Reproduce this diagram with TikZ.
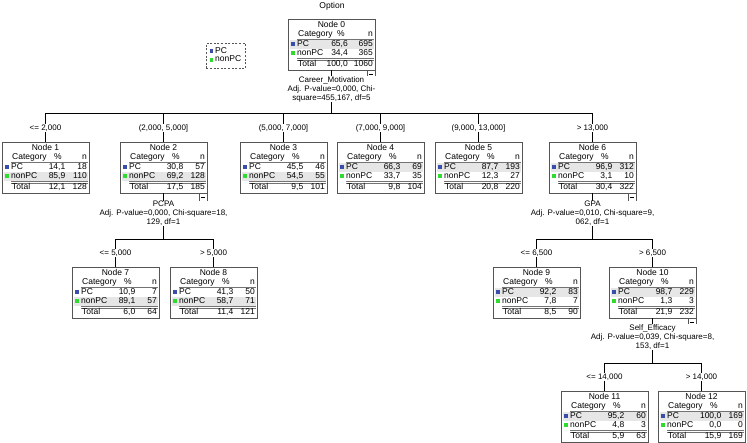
\documentclass[tikz,border=0pt]{standalone}
\usepackage{fontspec}
\setmainfont{Liberation Sans}
\usetikzlibrary{calc}
\definecolor{pcblue}{HTML}{3A4DA8}
\definecolor{npgreen}{HTML}{2EDB2E}
\definecolor{hlgray}{HTML}{E6E6E6}
\definecolor{boxgray}{HTML}{555555}
\tikzset{
  txt/.style={font=\fontsize{8.5}{9}\selectfont, inner sep=0pt, text height=6pt, text depth=1.7pt},
  lbl/.style={font=\fontsize{8}{9}\selectfont, inner sep=0.6pt, fill=white, align=center},
  tbox/.style={draw=boxgray, line width=0.8pt, inner sep=0pt, outer sep=0pt, minimum width=87pt, minimum height=51pt, anchor=north west},
  edge/.style={draw=black, line width=0.8pt},
  rule/.style={draw=black!55, line width=0.5pt}
}
\def\pcolx{63.5}
\def\phdx{56}
\newcommand\rowvals[3]{%
  \node[txt,anchor=east] at (\pcolx,#1) {#2};
  \node[txt,anchor=east] at (85,#1) {#3};}
% #1 name, #2 x, #3 y, #4 number, #5 highlighted row, #6 PC, #7 nonPC, #8 Total, #9 collapse box
\newcommand\tnode[9]{%
  \begin{scope}[shift={(#2,#3)}]
    \ifnum#5=1 \fill[hlgray] (2,20.8) rectangle (85.5,29.6);\else\fill[hlgray] (2,29.6) rectangle (85.5,38.8);\fi
    \node[txt] at (43.5,6) {Node #4};
    \node[txt,anchor=west] at (10,15) {Category};
    \node[txt] at (\phdx,15) {\%};
    \node[txt,anchor=east] at (85,15) {n};
    \draw[rule] (9,20.6) -- (85.5,20.6);
    \fill[pcblue] (2.6,23.2) rectangle (6.6,27.2);
    \node[txt,anchor=west] at (9,25.2) {PC};
    \rowvals{25.2}#6
    \fill[npgreen] (2.6,32.2) rectangle (6.6,36.2);
    \node[txt,anchor=west] at (9,34.2) {nonPC};
    \rowvals{34.2}#7
    \draw[rule] (9,39.3) -- (85.5,39.3);
    \draw[rule] (9,40.8) -- (85.5,40.8);
    \node[txt,anchor=west] at (10,45.8) {Total};
    \rowvals{45.8}#8
    \ifnum#9=1
      \draw[draw=boxgray, line width=0.6pt, fill=white] (79,51) rectangle (87,59);
      \draw[line width=0.6pt] (80.8,55) -- (85.2,55);
    \fi
  \end{scope}
  \node[tbox] (#1) at (#2,#3) {};
}
\begin{document}
\begin{tikzpicture}[x=1pt,y=-1pt]
\useasboundingbox (0,0) rectangle (747,443);
\fill[white] (0,0) rectangle (747,443);

\node[txt] (title) at (332,6) {Option};

% legend
\node[draw=boxgray, dashed, dash pattern=on 2pt off 1.6pt, line width=0.7pt, minimum width=39pt, minimum height=25pt, inner sep=0pt, anchor=north west] (legend) at (206,43) {};
\fill[pcblue] (209.5,49.4) rectangle (213.1,53);
\node[txt,anchor=west] (legpc) at (215,51.3) {PC};
\fill[npgreen] (209.5,58) rectangle (213.1,61.6);
\node[txt,anchor=west] (legnp) at (215,59.8) {nonPC};

% nodes
\def\pcolx{60}\def\phdx{53}
\tnode{n0}{288}{19}{0}{1}{{65,6}{695}}{{34,4}{365}}{{100,0}{1060}}{1}
\def\pcolx{63.5}\def\phdx{56}
\tnode{n1}{2}{142}{1}{2}{{14,1}{18}}{{85,9}{110}}{{12,1}{128}}{0}
\tnode{n2}{120}{142}{2}{2}{{30,8}{57}}{{69,2}{128}}{{17,5}{185}}{1}
\tnode{n3}{240}{142}{3}{2}{{45,5}{46}}{{54,5}{55}}{{9,5}{101}}{0}
\tnode{n4}{337}{142}{4}{1}{{66,3}{69}}{{33,7}{35}}{{9,8}{104}}{0}
\tnode{n5}{435}{142}{5}{1}{{87,7}{193}}{{12,3}{27}}{{20,8}{220}}{0}
\tnode{n6}{549}{142}{6}{1}{{96,9}{312}}{{3,1}{10}}{{30,4}{322}}{1}
\tnode{n7}{72}{267}{7}{2}{{10,9}{7}}{{89,1}{57}}{{6,0}{64}}{0}
\tnode{n8}{170}{267}{8}{2}{{41,3}{50}}{{58,7}{71}}{{11,4}{121}}{0}
\tnode{n9}{493}{267}{9}{1}{{92,2}{83}}{{7,8}{7}}{{8,5}{90}}{0}
\tnode{n10}{609}{267}{10}{1}{{98,7}{229}}{{1,3}{3}}{{21,9}{232}}{1}
\tnode{n11}{561}{391}{11}{1}{{95,2}{60}}{{4,8}{3}}{{5,9}{63}}{0}
\tnode{n12}{658}{391}{12}{1}{{100,0}{169}}{{0,0}{0}}{{15,9}{169}}{0}

% bars
\coordinate (b0) at ($(n0.south)+(0,43)$);
\coordinate (b2) at ($(n2.south)+(0,46)$);
\coordinate (b6) at ($(n6.south)+(0,46)$);
\coordinate (b10) at ($(n10.south)+(0,45)$);

% edges level 1
\draw[edge] (n0.south) -- (b0);
\draw[edge] (n1.north) -- (n1.north |- b0) -- (n6.north |- b0) -- (n6.north);
\foreach \c in {n2,n3,n4,n5} \draw[edge] (\c.north) -- (\c.north |- b0);
% level 2
\draw[edge] (n2.south) -- (b2);
\draw[edge] (n7.north) -- (n7.north |- b2) -- (n8.north |- b2) -- (n8.north);
\draw[edge] (n6.south) -- (b6);
\draw[edge] (n9.north) -- (n9.north |- b6) -- (n10.north |- b6) -- (n10.north);
% level 3
\draw[edge] (n10.south) -- (b10);
\draw[edge] (n11.north) -- (n11.north |- b10) -- (n12.north |- b10) -- (n12.north);

% split labels
\node[lbl] (s0) at ($(n0.south)+(0,19)$) {Career\_Motivation\\Adj. P-value=0,000, Chi-\\square=455,167, df=5};
\node[lbl] (s2) at ($(n2.south)+(0,20.5)$) {PCPA\\Adj. P-value=0,000, Chi-square=18,\\129, df=1};
\node[lbl] (s6) at ($(n6.south)+(0,20.5)$) {GPA\\Adj. P-value=0,010, Chi-square=9,\\062, df=1};
\node[lbl] (s10) at ($(n10.south)+(0,19)$) {Self\_Efficacy\\Adj. P-value=0,039, Chi-square=8,\\153, df=1};

% branch labels
\node[lbl] (e1) at ($(n1.north)+(0,-14)$) {<= 2,000};
\node[lbl] (e2) at ($(n2.north)+(0,-14)$) {(2,000, 5,000]};
\node[lbl] (e3) at ($(n3.north)+(0,-14)$) {(5,000, 7,000]};
\node[lbl] (e4) at ($(n4.north)+(0,-14)$) {(7,000, 9,000]};
\node[lbl] (e5) at ($(n5.north)+(0,-14)$) {(9,000, 13,000]};
\node[lbl] (e6) at ($(n6.north)+(0,-14)$) {> 13,000};
\node[lbl] (e7) at ($(n7.north)+(0,-14)$) {<= 5,000};
\node[lbl] (e8) at ($(n8.north)+(0,-14)$) {> 5,000};
\node[lbl] (e9) at ($(n9.north)+(0,-14)$) {<= 6,500};
\node[lbl] (e10) at ($(n10.north)+(0,-14)$) {> 6,500};
\node[lbl] (e11) at ($(n11.north)+(0,-14)$) {<= 14,000};
\node[lbl] (e12) at ($(n12.north)+(0,-14)$) {> 14,000};
\end{tikzpicture}
\end{document}
